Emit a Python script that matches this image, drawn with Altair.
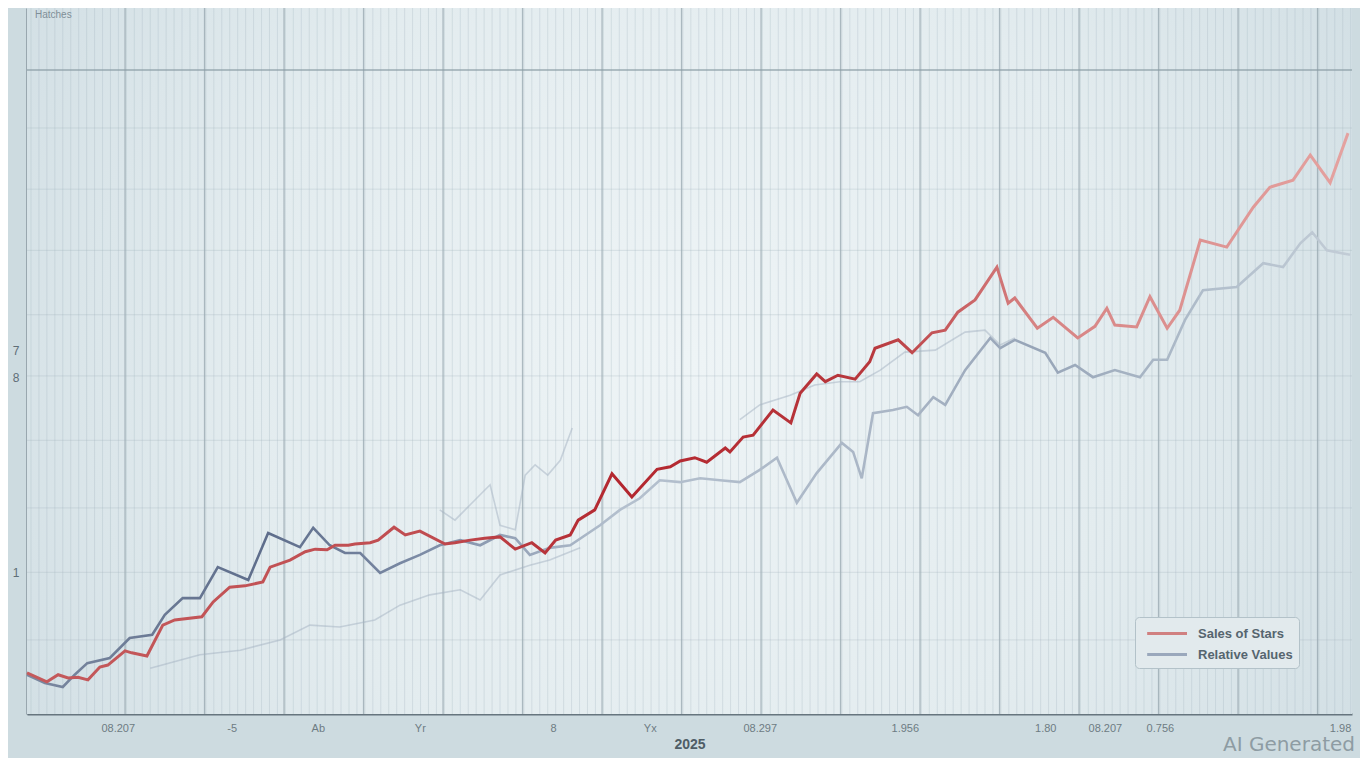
import altair as alt
import pandas as pd
import numpy as np

# ---------------- data ----------------
series_names = ["Sales of Stars", "Relative Values"]

red_t = [0, 3.0, 4.7, 6.2, 7.7, 9.2, 11.0, 12.2, 14.8, 15.8, 18.1, 20.5, 22.3, 26.4, 28.1,
         30.6, 32.9, 35.6, 36.7, 39.7, 42.0, 43.5, 45.3, 46.5, 48.5, 49.5, 51.8, 53.0, 55.4,
         57.1, 59.3, 63.1, 64.6, 66.9, 69.1, 71.4, 73.7, 76.2, 78.2, 79.8, 82.0, 83.2, 85.7,
         88.3, 91.3, 95.1, 97.1, 98.6, 100.8, 102.6, 105.4, 106.1, 108.1, 109.6, 112.6, 115.3,
         116.7, 119.2, 120.5, 122.4, 125.0, 127.2, 128.0, 131.5, 133.6, 136.6, 138.6, 140.5,
         143.1, 146.4, 148.1, 149.1, 152.5, 154.9, 158.6, 161.2, 163.0, 164.2, 167.5, 169.5,
         172.1, 174.0, 177.1, 181.1, 185.1, 187.6, 191.1, 193.7, 196.7, 199.4]
red_v = [6.4, 5.0, 6.1, 5.6, 5.7, 5.3, 7.3, 7.6, 9.8, 9.5, 9.0, 13.8, 14.6, 15.1, 17.4,
         19.7, 19.9, 20.5, 22.8, 23.9, 25.2, 25.6, 25.5, 26.2, 26.2, 26.4, 26.6, 27.0, 29.0,
         27.8, 28.4, 26.4, 26.6, 27.0, 27.3, 27.5, 25.6, 26.6, 25.0, 27.0, 27.8, 30.1, 31.7,
         37.3, 33.7, 38.0, 38.4, 39.3, 39.8, 39.1, 41.3, 40.7, 43.0, 43.3, 47.2, 45.2,
         49.8, 52.8, 51.6, 52.6, 52.0, 54.7, 56.8, 58.1, 56.1, 59.2, 59.6, 62.4,
         64.3, 69.4, 63.8, 64.6, 59.9, 61.6, 58.4, 60.2, 63.0, 60.4, 60.1, 64.8,
         59.9, 62.7, 73.6, 72.5, 78.7, 81.8, 82.9, 86.8, 82.5, 90.2]

blue_t = [0, 2.7, 5.4, 7.2, 9.1, 12.5, 15.5, 18.9, 20.8, 23.5, 26.1, 28.8, 33.4, 36.4, 41.2,
          43.2, 45.7, 48.0, 50.3, 53.3, 56.3, 59.3, 62.3, 65.4, 68.4, 71.4, 73.7, 75.9, 78.9,
          82.0, 86.5, 89.5, 92.5, 95.5, 98.6, 101.6, 104.6, 107.6, 110.6, 113.2, 116.2, 119.2,
          123.0, 124.7, 126.0, 127.7, 130.7, 132.8, 134.5, 136.8, 138.6, 141.6, 145.4, 146.9,
          149.1, 153.7, 155.6, 158.2, 160.9, 164.2, 168.0, 170.0, 172.1, 174.8, 177.5, 182.6,
          186.6, 189.6, 192.2, 194.0, 196.2, 199.7]
blue_v = [6.1, 4.8, 4.2, 6.1, 7.9, 8.7, 11.8, 12.3, 15.4, 18.0, 18.0, 22.8, 20.8, 28.1, 25.9,
          28.9, 26.2, 25.0, 25.0, 21.9, 23.4, 24.7, 26.2, 27.0, 26.2, 27.8, 27.3, 24.7, 25.8,
          26.2, 29.3, 31.7, 33.5, 36.3, 36.0, 36.6, 36.3, 36.0, 37.9, 39.8, 32.8, 37.4,
          42.1, 40.7, 36.6, 46.7, 47.2, 47.7, 46.4, 49.2, 48.0, 53.4, 58.4, 56.8,
          58.1, 56.1, 53.0, 54.2, 52.3, 53.4, 52.3, 55.0, 55.0, 61.2, 65.8, 66.3,
          70.0, 69.4, 73.1, 74.8, 72.0, 71.3]

# faint background traces (no legend)
faint_a_t = [107.6, 110.6, 115.2, 118.9, 122.7, 125.7, 128.8, 132.5, 137.1, 141.6, 144.6, 146.9, 149.1]
faint_a_v = [45.7, 48.0, 49.5, 51.1, 51.6, 51.6, 53.4, 56.2, 56.5, 59.3, 59.6, 57.3, 58.4]
faint_b_t = [18.6, 26.1, 32.2, 38.2, 42.7, 47.2, 52.5, 56.3, 60.8, 65.4, 68.4, 71.4, 75.9, 78.9, 83.5]
faint_b_v = [7.1, 9.2, 9.9, 11.5, 13.8, 13.5, 14.6, 16.9, 18.5, 19.3, 17.7, 21.6, 23.1, 23.9, 25.8]
faint_c_t = [62.3, 64.6, 66.9, 69.9, 71.4, 73.7, 75.2, 76.7, 78.6, 80.5, 82.3]
faint_c_v = [31.7, 30.1, 32.5, 35.6, 29.3, 28.6, 37.1, 38.7, 37.1, 39.4, 44.4]

# axis text
x_label_t = [13.7, 30.9, 43.9, 59.3, 79.4, 94.0, 110.6, 132.5, 153.7, 162.7, 171.0, 198.2]
x_label_text = ["08.207", "-5", "Ab", "Yr", "8", "Yx", "08.297", "1.956", "1.80", "08.207", "0.756", "1.98"]
y_label_v = [21.9, 52.2, 56.5]
y_label_text = ["1", "8", "7"]

# grid positions
major_grid_t = [14.8, 26.8, 38.8, 50.8, 62.8, 74.8, 86.8, 98.8, 110.8, 122.8, 134.8,
                146.8, 158.8, 170.8, 182.8, 194.8]
minor_grid_t = list(np.round(np.arange(0.6, 200, 1.2), 2))
h_grid_v = [11.5, 22.0, 32.0, 42.5, 52.5, 62.0, 72.0, 81.5, 91.0]
top_line_v = [100.0]

# ---------------- layout ----------------
W, H = 1325, 706
X_DOM = [0, 200]
Y_DOM = [0, 109.63]

label_expr_x = "[" + ",".join("'%s'" % s for s in x_label_text) + "][indexof([" + \
    ",".join(str(v) for v in x_label_t) + "], datum.value)]"
label_expr_y = "[" + ",".join("'%s'" % s for s in y_label_text) + "][indexof([" + \
    ",".join(str(v) for v in y_label_v) + "], datum.value)]"

x_axis = alt.Axis(values=x_label_t, labelExpr=label_expr_x, grid=False, ticks=False,
                  domainColor="#66757e", domainWidth=2, labelColor="#6d7b83",
                  labelFontSize=11, labelPadding=8, title="2025", titleFontSize=14,
                  titleFontWeight="bold", titleColor="#4f5d66", titlePadding=4,
                  labelFlush=False, labelOverlap=False)
y_axis = alt.Axis(values=y_label_v, labelExpr=label_expr_y, grid=False, ticks=False,
                  domainColor="#66757e", domainWidth=2, labelColor="#5f6e77",
                  labelFontSize=12, labelPadding=8, title="")


def X(field="t"):
    return alt.X(field + ":Q", scale=alt.Scale(domain=X_DOM, nice=False, zero=False), axis=x_axis)


def Y(field="v"):
    return alt.Y(field + ":Q", scale=alt.Scale(domain=Y_DOM, nice=False, zero=False), axis=y_axis)


# background gradient in plot area
bg = alt.Chart(pd.DataFrame({"a": [0]})).mark_rect(
    fill={"gradient": "radial", "x1": 0.5, "y1": 0.5, "r1": 0, "x2": 0.5, "y2": 0.5, "r2": 0.75,
          "stops": [{"offset": 0, "color": "#eef4f6"}, {"offset": 0.45, "color": "#e3ecef"},
                    {"offset": 1, "color": "#c6d6dd"}]}
).encode(x=alt.value(0), x2=alt.value(W), y=alt.value(0), y2=alt.value(H))

minor = alt.Chart(pd.DataFrame({"t": minor_grid_t})).mark_rule(
    color="#9fb1ba", opacity=0.28, strokeWidth=1).encode(x=X())
major = alt.Chart(pd.DataFrame({"t": major_grid_t})).mark_rule(
    color="#8a9ba4", opacity=0.65, strokeWidth=1.3).encode(x=X())
hgrid = alt.Chart(pd.DataFrame({"v": h_grid_v})).mark_rule(
    color="#9fb1ba", opacity=0.3, strokeWidth=1).encode(y=Y())
topline = alt.Chart(pd.DataFrame({"v": top_line_v})).mark_rule(
    color="#8a9ba4", opacity=0.8, strokeWidth=1.5).encode(y=Y())

faint_df = pd.concat([
    pd.DataFrame({"t": faint_a_t, "v": faint_a_v, "k": "a"}),
    pd.DataFrame({"t": faint_b_t, "v": faint_b_v, "k": "b"}),
    pd.DataFrame({"t": faint_c_t, "v": faint_c_v, "k": "c"}),
])
faint = alt.Chart(faint_df).mark_line(color="#a3b1c2", opacity=0.5, strokeWidth=1.6).encode(
    x=X(), y=Y(), detail="k:N")

main_df = pd.concat([
    pd.DataFrame({"t": red_t, "v": red_v, "series": series_names[0]}),
    pd.DataFrame({"t": blue_t, "v": blue_v, "series": series_names[1]}),
])

legend = alt.Legend(title=None, orient="none", legendX=1108, legendY=609, fillColor="#e2eaed",
                    strokeColor="#b3c2c9", cornerRadius=4, padding=6, labelFontSize=13,
                    labelColor="#56656f", symbolType="M-0.5,0H4.1", symbolStrokeWidth=3,
                    symbolSize=300, rowPadding=3, labelFontWeight="bold", labelOffset=36)

legend_layer = alt.Chart(main_df).mark_line(strokeWidth=3).encode(
    x=X(), y=Y(),
    color=alt.Color("series:N", scale=alt.Scale(domain=series_names, range=["#d08080", "#9aa8bc"]),
                    legend=legend)
).transform_filter(alt.datum.t < -1000)

red_grad = {"gradient": "linear", "x1": 0, "y1": 0, "x2": 1, "y2": 0,
            "stops": [{"offset": 0, "color": "#c45a5c"}, {"offset": 0.3, "color": "#c04c50"},
                      {"offset": 0.45, "color": "#b3262e"}, {"offset": 0.64, "color": "#b8383d"},
                      {"offset": 0.76, "color": "#d68282"}, {"offset": 1, "color": "#e4a2a0"}]}
blue_grad = {"gradient": "linear", "x1": 0, "y1": 0, "x2": 1, "y2": 0,
             "stops": [{"offset": 0, "color": "#7a88a0"}, {"offset": 0.18, "color": "#5e6d8b"},
                       {"offset": 0.3, "color": "#7d8ca6"}, {"offset": 0.45, "color": "#b4c0ce"},
                       {"offset": 0.66, "color": "#a9b5c5"}, {"offset": 0.76, "color": "#96a4b7"},
                       {"offset": 0.9, "color": "#b2bfcc"}, {"offset": 1, "color": "#c2ccd6"}]}

blue_line = alt.Chart(main_df).mark_line(stroke=blue_grad, strokeWidth=2.6).encode(
    x=X(), y=Y()).transform_filter(alt.datum.series == series_names[1])
red_line = alt.Chart(main_df).mark_line(stroke=red_grad, strokeWidth=3).encode(
    x=X(), y=Y()).transform_filter(alt.datum.series == series_names[0])

watermark = alt.Chart(pd.DataFrame({"a": [0]})).mark_text(
    text="AI Generated", align="right", baseline="middle", fontSize=20, color="#8e9ca3",
    font="DejaVu Sans").encode(x=alt.value(1328), y=alt.value(H + 31))

chart = alt.layer(bg, minor, major, hgrid, topline, faint, legend_layer, blue_line, red_line,
                  watermark).properties(
    width=W, height=H,
    autosize=alt.AutoSizeParams(type="none"),
    padding={"left": 19, "top": 0, "right": 8, "bottom": 44},
    background="#cddbe0",
    title=alt.Title("Hatches", anchor="start", frame="group", offset=-13, dx=8, fontSize=10,
                    fontWeight="normal", color="#7f8f98"),
).configure_view(strokeWidth=0)

chart.save("out.html", embed_options={"renderer": "svg", "actions": False})
